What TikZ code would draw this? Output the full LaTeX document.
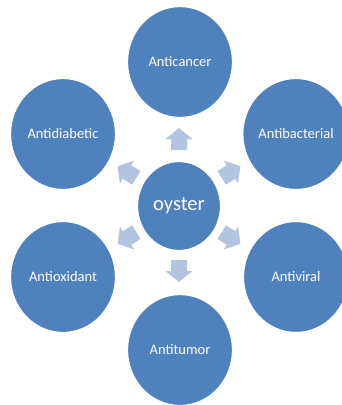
\documentclass[tikz,border=0pt]{standalone}
\usepackage{fontspec}
\setmainfont{Carlito}
\usetikzlibrary{shapes.geometric}
\definecolor{circfill}{HTML}{4F81BD}
\definecolor{arrfill}{HTML}{B3C4DF}
\begin{document}
\begin{tikzpicture}[x=1pt,y=-1pt,
  bubble/.style={ellipse, fill=circfill, draw=white, line width=1.2pt,
    minimum width=105pt, minimum height=111pt, inner sep=0pt,
    text=white, font=\fontsize{14.5}{16}\selectfont},
  hub/.style={bubble, minimum width=83pt, minimum height=89pt,
    font=\fontsize{20.5}{22}\selectfont},
  blockarrow/.pic={\fill[arrfill] (-11,-8) -- (0,-8) -- (0,-13.5) -- (11,0)
    -- (0,13.5) -- (0,8) -- (-11,8) -- cycle;}]
\useasboundingbox (0,0) rectangle (341,405);
\node[hub] (oy) at (179,206) {oyster};
\node[bubble] (ac) at (180,62) {Anticancer};
\node[bubble] (ad) at (63,134) {Antidiabetic};
\node[bubble] (ab) at (296,134) {Antibacterial};
\node[bubble] (ao) at (63,277) {Antioxidant};
\node[bubble] (av) at (296,277) {Antiviral};
\node[bubble] (at) at (180,350) {Antitumor};
\pic[rotate=90] (a1) at (179,139) {blockarrow};
\pic[rotate=148] (a2) at (127,172) {blockarrow};
\pic[rotate=32] (a3) at (231,172) {blockarrow};
\pic[rotate=212] (a4) at (127,238) {blockarrow};
\pic[rotate=-32] (a5) at (231,238) {blockarrow};
\pic[rotate=-90] (a6) at (179,271) {blockarrow};
\end{tikzpicture}
\end{document}
